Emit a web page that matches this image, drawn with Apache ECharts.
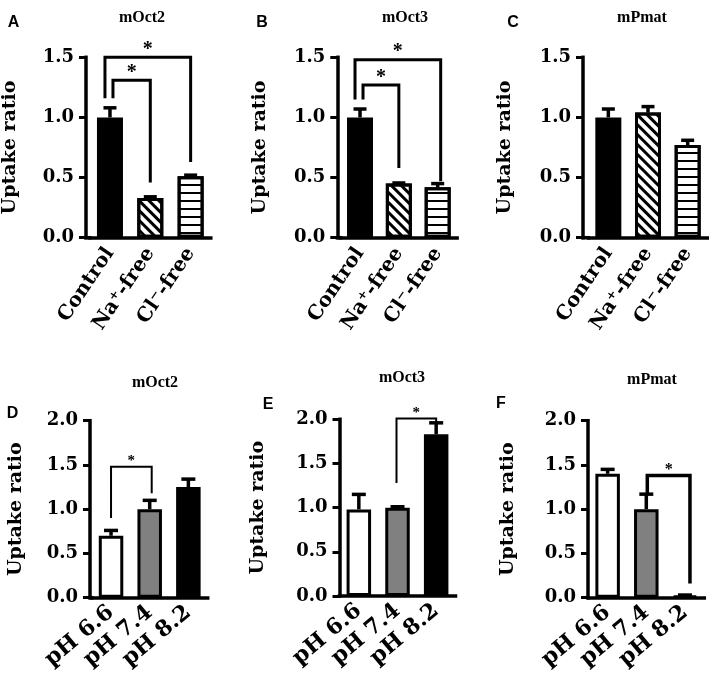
<!DOCTYPE html>
<html><head><meta charset="utf-8">
<script src="https://cdn.jsdelivr.net/npm/echarts@6/dist/echarts.min.js"></script>
<style>html,body{margin:0;padding:0;background:#fff}#c{width:709px;height:679px}</style>
</head><body><div id="c"></div>
<script>
// ---------- data ----------
const ionCategories = ['Control', 'Na\u207A-free', 'Cl\u207B-free'];
const phCategories = ['pH 6.6', 'pH 7.4', 'pH 8.2'];
const panelTitles = ['mOct2', 'mOct3', 'mPmat', 'mOct2', 'mOct3', 'mPmat'];
const panelLetters = ['A', 'B', 'C', 'D', 'E', 'F'];
const yAxisName = 'Uptake ratio';
const ionAxisMax = 1.5;
const phAxisMax = 2.0;
const tickInterval = 0.5;

const meanA = [1.00, 0.33, 0.51];  const errA = [0.08, 0.01, 0.01];
const meanB = [1.00, 0.45, 0.42];  const errB = [0.07, 0.005, 0.03];
const meanC = [1.00, 1.04, 0.77];  const errC = [0.07, 0.05, 0.04];
const meanD = [0.70, 1.00, 1.25];  const errD = [0.06, 0.10, 0.09];
const meanE = [0.98, 1.00, 1.83];  const errE = [0.17, 0.01, 0.13];
const meanF = [1.40, 1.00, 0.02];  const errF = [0.05, 0.17, 0.01];

// significance brackets: [fromIndex, toIndex, bracketHeight, leftLegEnd, rightLegEnd]
const sigA = [[0, 2, 1.50, 1.16, 0.63], [0, 1, 1.31, 1.16, 0.46]];
const sigB = [[0, 2, 1.48, 1.15, 0.47], [0, 1, 1.27, 1.15, 0.58]];
const sigC = [];
const sigD = [[0, 1, 1.48, 0.90, 1.18]];
const sigE = [[1, 2, 2.01, 1.28, 1.95]];
const sigF = [[1, 2, 1.38, 1.16, 0.16]];
const sigMark = '*';

// ---------- layout & style ----------
const SERIF = '"DejaVu Serif", serif';
const TSERIF = '"Liberation Serif", "Times New Roman", serif';
const SANS = '"Liberation Sans", Arial, sans-serif';

const panels = [
  {cats: ionCategories, mean: meanA, err: errA, sig: sigA, max: ionAxisMax, axisX: 86, left: 89.8, width: 121, top: 57.3, height: 180.4, rot: 56, lblSize: 20, barW: 26, cap: 6.5, legOff: [[-5, 0], [3, 0]], sigW: 3, starSize: 20, title: [137, 12.5], letter: [8.5, 17.5], nameGap: 66},
  {cats: ionCategories, mean: meanB, err: errB, sig: sigB, max: ionAxisMax, axisX: 337.3, left: 340.6, width: 116.5, top: 57.3, height: 180.4, rot: 56, lblSize: 20, barW: 26, cap: 6.5, legOff: [[-5, 3], [3, 0]], sigW: 3, starSize: 20, title: [400, 12.5], letter: [257, 17.5], nameGap: 68},
  {cats: ionCategories, mean: meanC, err: errC, sig: sigC, max: ionAxisMax, axisX: 583, left: 588.5, width: 119, top: 57.3, height: 180.4, rot: 56, lblSize: 20, barW: 26, cap: 6.5, legOff: [], sigW: 3, starSize: 20, title: [637, 12.5], letter: [508, 17.5], nameGap: 68},
  {cats: phCategories, mean: meanD, err: errD, sig: sigD, max: phAxisMax, axisX: 90, left: 91.7, width: 116, top: 420.7, height: 177, rot: 40, lblSize: 22, barW: 24.5, cap: 7, legOff: [[0, 2]], sigW: 2, starSize: 15, title: [150, 377.5], letter: [7.5, 409], nameGap: 64},
  {cats: phCategories, mean: meanE, err: errE, sig: sigE, max: phAxisMax, axisX: 339.5, left: 339.5, width: 116, top: 419.3, height: 176.7, rot: 40, lblSize: 22, barW: 24.5, cap: 7, legOff: [[-1, 0]], sigW: 2, starSize: 15, title: [397, 373.3], letter: [263, 400], nameGap: 72},
  {cats: phCategories, mean: meanF, err: errF, sig: sigF, max: phAxisMax, axisX: 588, left: 588.3, width: 116, top: 420.7, height: 177, rot: 40, lblSize: 22, barW: 24.5, cap: 7, legOff: [[1, 5]], sigW: 3.5, starSize: 16, title: [647, 375], letter: [496, 399], nameGap: 70}
];

const ionBarStyles = [
  {color: '#000'},
  {color: '#fff', decal: {symbol: 'rect', symbolSize: 1, dashArrayX: [1, 0], dashArrayY: [2.8, 3.6], rotation: Math.PI / 4, color: '#000'}},
  {color: '#fff', decal: {symbol: 'rect', symbolSize: 1, dashArrayX: [1, 0], dashArrayY: [1.4, 5.2], rotation: 0, color: '#000'}}
];
const phBarStyles = [{color: '#fff'}, {color: '#808080'}, {color: '#000'}];

const chart = echarts.init(document.getElementById('c'), null, {renderer: 'canvas'});

const grids = [], xAxes = [], yAxes = [], series = [], titles = [], graphics = [];

panels.forEach((p, i) => {
  const isIon = p.cats === ionCategories;
  grids.push({left: p.left, top: p.top, width: p.width, height: p.height, containLabel: false});
  xAxes.push({
    type: 'category', gridIndex: i, data: p.cats,
    axisLine: {lineStyle: {color: '#000', width: 3.5, cap: 'square'}},
    axisTick: {alignWithLabel: true, length: 10, lineStyle: {color: '#000', width: 3.5}},
    axisLabel: {interval: 0, rotate: p.rot, margin: 12, color: '#000', fontFamily: SERIF, fontWeight: 'bold', fontSize: p.lblSize}
  });
  yAxes.push({
    type: 'value', gridIndex: i, min: 0, max: p.max, interval: tickInterval,
    offset: p.left - p.axisX,
    name: yAxisName, nameLocation: 'middle', nameGap: p.nameGap,
    nameTextStyle: {color: '#000', fontFamily: SERIF, fontWeight: 'bold', fontSize: 19},
    splitLine: {show: false},
    axisLine: {show: true, lineStyle: {color: '#000', width: 3.5, cap: 'square'}},
    axisTick: {show: true, length: 7, lineStyle: {color: '#000', width: 3}},
    axisLabel: {margin: 12, color: '#000', fontFamily: SERIF, fontWeight: 'bold', fontSize: 18,
      formatter: v => v.toFixed(1)}
  });
  const styles = isIon ? ionBarStyles : phBarStyles;
  series.push({
    type: 'bar', xAxisIndex: i, yAxisIndex: i, barWidth: p.barW, z: 2,
    data: p.mean.map((v, k) => ({value: v, itemStyle: Object.assign({borderColor: '#000', borderWidth: 3}, styles[k])})),
    animation: false
  });
  series.push({
    type: 'custom', xAxisIndex: i, yAxisIndex: i, z: 3, animation: false, silent: true,
    data: p.mean.map((v, k) => [k, v, p.err[k]]),
    renderItem: (params, api) => {
      const x = api.value(0), m = api.value(1), e = api.value(2);
      const a = api.coord([x, m]), b = api.coord([x, m + e]);
      return {type: 'group', children: [
        {type: 'line', shape: {x1: a[0], y1: a[1], x2: b[0], y2: b[1]}, style: {stroke: '#000', lineWidth: 3.5}},
        {type: 'line', shape: {x1: b[0] - p.cap, y1: b[1], x2: b[0] + p.cap, y2: b[1]}, style: {stroke: '#000', lineWidth: 3.5}}
      ]};
    }
  });
  if (p.sig.length) {
    series.push({
      type: 'custom', xAxisIndex: i, yAxisIndex: i, z: 4, animation: false, silent: true, clip: false,
      data: p.sig,
      renderItem: (params, api) => {
        const f = api.value(0), t = api.value(1), h = api.value(2), lb = api.value(3), rb = api.value(4);
        const off = p.legOff[params.dataIndex] || [0, 0];
        const pf = api.coord([f, h]), pt = api.coord([t, h]);
        const xa = pf[0] + off[0], xb = pt[0] + off[1];
        const ya = api.coord([f, lb])[1], yb = api.coord([t, rb])[1];
        return {type: 'group', children: [
          {type: 'polyline', shape: {points: [[xa, ya], [xa, pf[1]], [xb, pf[1]], [xb, yb]]},
            style: {stroke: '#000', fill: null, lineWidth: p.sigW, lineJoin: 'miter'}},
          {type: 'text', style: {text: sigMark, x: (xa + xb) / 2, y: pf[1] - p.starSize * 0.38,
            align: 'center', verticalAlign: 'middle', font: 'bold ' + p.starSize + 'px ' + TSERIF, fill: '#000'}}
        ]};
      }
    });
  }
  titles.push({text: panelTitles[i], left: p.title[0], top: p.title[1], textAlign: 'center', textVerticalAlign: 'middle',
    textStyle: {fontFamily: TSERIF, fontWeight: 'bold', fontSize: 16, color: '#000'}});
  titles.push({text: panelLetters[i], left: p.letter[0], top: p.letter[1], textAlign: 'center', textVerticalAlign: 'middle',
    textStyle: {fontFamily: SANS, fontWeight: 'bold', fontSize: 16, color: '#000'}});
  if (p.left - p.axisX > 0.5) {
    graphics.push({type: 'line', z: 10, shape: {x1: p.axisX, y1: p.top + p.height, x2: p.left, y2: p.top + p.height},
      style: {stroke: '#000', lineWidth: 3.5, lineCap: 'square'}});
  }
});

chart.setOption({
  backgroundColor: '#fff',
  animation: false,
  title: titles,
  grid: grids,
  xAxis: xAxes,
  yAxis: yAxes,
  series: series,
  graphic: graphics
});
</script>
</body></html>
